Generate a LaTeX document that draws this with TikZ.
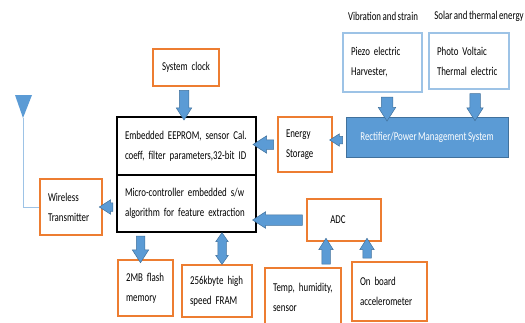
\documentclass[tikz,border=0pt]{standalone}
\usepackage{fontspec}
\setmainfont{Carlito}[FakeStretch=0.74,WordSpace=0.75]
\usetikzlibrary{shapes.arrows,calc}
\definecolor{borange}{HTML}{ED7D31}
\definecolor{bblue}{HTML}{5B9BD5}
\definecolor{bdark}{HTML}{41719C}
\definecolor{blight}{HTML}{9DC3E6}
\newcommand\barrow[5][]{%
  \path let \p1=(#2), \p2=(#3), \n1={veclen(\x2-\x1,\y2-\y1)} in
    (\p1) -- (\p2) node[midway, sloped, allow upside down, single arrow,
      draw=bdark, fill=bblue, line width=0.5pt, inner xsep=0pt,
      minimum height=\n1, inner ysep=#4, single arrow head extend=#5,
      single arrow tip angle=65, #1] {};}
\newcommand\dbarrow[4]{%
  \path let \p1=(#1), \p2=(#2), \n1={veclen(\x2-\x1,\y2-\y1)} in
    (\p1) -- (\p2) node[midway, sloped, allow upside down, double arrow,
      draw=bdark, fill=bblue, line width=0.5pt, inner xsep=0pt,
      minimum height=\n1, inner ysep=#3, double arrow head extend=#4,
      double arrow tip angle=70] {};}
\begin{document}
\begin{tikzpicture}[x=1pt,y=-1pt,
  txt/.style={font=\fontsize{12}{20}\selectfont},
  obox/.style={txt, draw=borange, line width=1.2pt, inner xsep=8pt, inner ysep=0pt, align=left},
  kbox/.style={txt, draw=black, line width=1.4pt, inner xsep=8pt, inner ysep=0pt, align=left},
  lbbox/.style={txt, draw=blight, line width=1.2pt, inner xsep=8pt, inner ysep=0pt, align=left},
  plain/.style={txt, inner sep=0pt}]
\useasboundingbox (0,0) rectangle (525,322);
% nodes
\node[obox, align=center, text width=50pt, minimum height=37pt] (clock) at (186,67.5) {\mbox{System clock}};
\node[kbox, text width=123pt, minimum height=58pt] (eeprom) at (186.5,146) {\mbox{Embedded EEPROM, sensor Cal.}\\\mbox{coeff, filter parameters,32-bit ID}};
\node[kbox, text width=123pt, minimum height=57pt] (micro) at (186.5,203.5) {\mbox{Micro-controller embedded s/w}\\\mbox{algorithm for feature extraction}};
\node[obox, text width=46pt, minimum height=56pt] (wireless) at (71,207) {\mbox{Wireless}\\\mbox{Transmitter}};
\node[obox, text width=39pt, minimum height=56pt] (flash) at (145.5,288) {\mbox{2MB flash}\\\mbox{memory}};
\node[obox, text width=54pt, minimum height=52pt] (fram) at (217,291) {\mbox{256kbyte high}\\\mbox{speed FRAM}};
\node[obox, text width=38pt, minimum height=55pt] (storage) at (305,144.5) {\mbox{Energy}\\\mbox{Storage}};
\node[txt, draw=bdark, fill=bblue, line width=0.8pt, text=white, align=center, inner sep=0pt, minimum width=162pt, minimum height=40pt] (rect) at (427,137) {Rectifier/Power Management System};
\node[lbbox, text width=63pt, minimum height=59pt] (piezo) at (382.5,62.5) {\mbox{Piezo electric}\\\mbox{Harvester,}};
\node[lbbox, text width=64pt, minimum height=56pt] (pv) at (469,61) {\mbox{Photo Voltaic}\\\mbox{Thermal electric}};
\node[plain] (vib) at (383,16) {Vibration and strain};
\node[plain] (sol) at (479,16) {Solar and thermal energy};
\node[obox, align=center, text width=58pt, minimum height=42pt] (adc) at (344,220) {\hspace*{-12pt}ADC};
\node[obox, text width=60pt, minimum height=58pt] (temp) at (303,297) {\mbox{Temp, humidity,}\\\mbox{sensor}};
\node[obox, text width=59pt, minimum height=59pt] (onboard) at (389.5,291.5) {\mbox{On board}\\\mbox{accelerometer}};
% antenna
\fill[bblue] (15,95) -- (32,95) -- (23,118) -- cycle;
\coordinate (ant) at (23,118);
\draw[blight, line width=0.8pt] (ant) |- (wireless.west);
% helper coordinates
\coordinate (ck) at ($(clock.south)+(-2,0)$);
\coordinate (fl) at ($(flash.north)+(-5,0)$);
\coordinate (fr) at ($(fram.north)+(5,0)$);
\coordinate (tp) at ($(temp.north)+(23,0)$);
\coordinate (ob) at ($(onboard.north)+(-22.5,0)$);
\coordinate (pz) at ($(piezo.south)+(4.5,0)$);
\coordinate (ph) at ($(pv.south)+(6,0)$);
\coordinate (rw) at ($(rect.west)+(0,3)$);
% arrows
\barrow{ck}{ck |- eeprom.north}{4.5pt}{3pt}
\barrow{rw}{storage.east |- rw}{3.5pt}{2.5pt}
\barrow{storage.west}{eeprom.east |- storage.west}{4.5pt}{4pt}
\barrow{micro.west |- wireless.east}{wireless.east}{4pt}{3pt}
\barrow{fl |- micro.south}{fl}{4pt}{4pt}
\dbarrow{fr |- micro.south}{fr}{4pt}{2pt}
\barrow{adc.west}{micro.east |- adc.west}{5pt}{3pt}
\barrow{tp}{tp |- adc.south}{4pt}{3pt}
\barrow{ob}{ob |- adc.south}{4pt}{3pt}
\barrow{pz}{pz |- rect.north}{5.5pt}{3pt}
\barrow{ph}{ph |- rect.north}{5pt}{3pt}
\end{tikzpicture}
\end{document}
